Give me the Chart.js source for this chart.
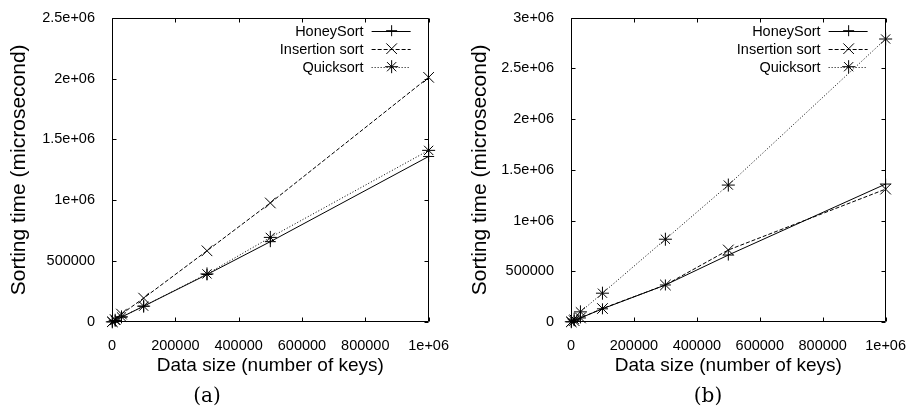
<!DOCTYPE html>
<html>
<head>
<meta charset="utf-8">
<script src="https://cdn.jsdelivr.net/npm/chart.js@4/dist/chart.umd.min.js"></script>
<style>
  html, body { margin: 0; padding: 0; background: #fff; }
  #wrap { position: relative; width: 913px; height: 411px; background: #fff; overflow: hidden; }
  canvas { position: absolute; top: 0; }
  .cap { position: absolute; top: 382px; width: 60px; margin-left: -30px; text-align: center;
         font-family: "DejaVu Serif", "Liberation Serif", serif; font-size: 20px; line-height: 26px; color: #000; }
</style>
</head>
<body>
<div id="wrap">
  <canvas id="chartA" width="456" height="411" style="left:0;width:456px;height:411px"></canvas>
  <canvas id="chartB" width="453" height="411" style="left:460px;width:453px;height:411px"></canvas>
  <div class="cap" style="left:207px">(a)</div>
  <div class="cap" style="left:708px">(b)</div>
</div>
<script>
// Data sizes (number of keys) used in both experiments
const dataSizes = [1000, 10000, 30000, 100000, 300000, 500000, 1000000];

// Experiment (a): sorting time in microseconds
const honeyA     = [1300, 13000, 40000, 130000, 390000, 660000, 1360000];
const insertionA = [2000, 20000, 65000, 196000, 585000, 978000, 2010000];
const quickA     = [1400, 14000, 42000, 130000, 395000, 695000, 1410000];

// Experiment (b): sorting time in microseconds
const honeyB     = [1300, 13000, 40000, 130000, 365000, 660000, 1360000];
const insertionB = [1300, 13000, 40000, 133000, 365000, 710000, 1310000];
const quickB     = [2800, 28000, 100000, 284000, 816000, 1350000, 2790000];

const seriesNames = ['HoneySort', 'Insertion sort', 'Quicksort'];

// Tick labels in gnuplot's default format
const xTickValues = [0, 200000, 400000, 600000, 800000, 1000000];
const xTickLabels = ['0', '200000', '400000', '600000', '800000', '1e+06'];
const yTickValuesA = [0, 500000, 1000000, 1500000, 2000000, 2500000];
const yTickLabelsA = ['0', '500000', '1e+06', '1.5e+06', '2e+06', '2.5e+06'];
const yTickValuesB = [0, 500000, 1000000, 1500000, 2000000, 2500000, 3000000];
const yTickLabelsB = ['0', '500000', '1e+06', '1.5e+06', '2e+06', '2.5e+06', '3e+06'];

const xTitle = 'Data size (number of keys)';
const yTitle = 'Sorting time (microsecond)';

const SANS = '"Liberation Sans", Arial, Helvetica, sans-serif';
Chart.defaults.color = '#000';
Chart.defaults.font.family = SANS;

// Line / marker styles: solid "+", dashed "x", dotted "*"
const styles = [
  { dash: [],     pointStyle: 'cross',    radius: 5.5 },
  { dash: [4, 2], pointStyle: 'crossRot', radius: 7.5 },
  { dash: [1, 2], pointStyle: 'star',     radius: 6.5 }
];

function pairs(xs, ys) { return xs.map((x, i) => ({ x: x, y: ys[i] })); }

function labelFor(values, labels) {
  return function (value) {
    const i = values.indexOf(value);
    return i >= 0 ? labels[i] : '';
  };
}

// Frame with inward tick marks on all four sides
const framePlugin = {
  id: 'frame',
  beforeDatasetsDraw(chart) {
    const { ctx, chartArea: a, scales } = chart;
    const L = Math.round(a.left) + 0.5, R = Math.round(a.right) - 0.5;
    const T = Math.round(a.top) + 0.5, B = Math.round(a.bottom) - 0.5;
    const len = 4;
    ctx.save();
    ctx.strokeStyle = '#000';
    ctx.lineWidth = 1;
    ctx.setLineDash([]);
    ctx.beginPath();
    ctx.rect(L, T, R - L, B - T);
    scales.x.ticks.forEach(t => {
      const px = Math.round(scales.x.getPixelForValue(t.value)) + 0.5;
      ctx.moveTo(px, B); ctx.lineTo(px, B - len);
      ctx.moveTo(px, T); ctx.lineTo(px, T + len);
    });
    scales.y.ticks.forEach(t => {
      const py = Math.round(scales.y.getPixelForValue(t.value)) + 0.5;
      ctx.moveTo(L, py); ctx.lineTo(L + len, py);
      ctx.moveTo(R, py); ctx.lineTo(R - len, py);
    });
    ctx.stroke();
    ctx.restore();
  }
};

// Key in the upper right corner: right-aligned text, line sample, marker
const keyPlugin = {
  id: 'key',
  afterDatasetsDraw(chart) {
    const { ctx, chartArea: a } = chart;
    ctx.save();
    ctx.font = '14.5px ' + SANS;
    ctx.textAlign = 'right';
    ctx.textBaseline = 'middle';
    chart.data.datasets.forEach((ds, i) => {
      const y = a.top + 13 + i * 18;
      ctx.fillStyle = '#000';
      ctx.fillText(ds.label, a.right - 65, y + 1);
      ctx.strokeStyle = '#000';
      ctx.lineWidth = 1;
      ctx.setLineDash(ds.borderDash || []);
      ctx.beginPath();
      ctx.moveTo(a.right - 57, Math.round(y) + 0.5);
      ctx.lineTo(a.right - 18, Math.round(y) + 0.5);
      ctx.stroke();
      ctx.setLineDash([]);
      Chart.helpers.drawPoint(ctx, {
        pointStyle: ds.pointStyle, rotation: 0, radius: ds.pointRadius, borderWidth: 1
      }, a.right - 37, y);
    });
    ctx.restore();
  }
};

function makeChart(id, seriesList, yMax, yValues, yLabels, yWidth, rightPad, yTitlePad) {
  const datasets = seriesList.map((vals, i) => ({
    label: seriesNames[i],
    data: pairs(dataSizes, vals),
    borderColor: '#000',
    backgroundColor: '#000',
    borderWidth: 1,
    borderDash: styles[i].dash,
    pointStyle: styles[i].pointStyle,
    pointRadius: styles[i].radius,
    pointBorderWidth: 1,
    pointBorderColor: '#000',
    tension: 0,
    clip: false
  }));
  return new Chart(document.getElementById(id), {
    type: 'line',
    data: { datasets: datasets },
    options: {
      responsive: false,
      animation: false,
      devicePixelRatio: 1,
      layout: { padding: { top: 12, right: rightPad, left: 0, bottom: 0 } },
      plugins: { legend: { display: false }, tooltip: { enabled: false } },
      elements: { point: { hoverRadius: 6 } },
      scales: {
        x: {
          type: 'linear', min: 0, max: 1000000,
          afterBuildTicks: s => { s.ticks = xTickValues.map(v => ({ value: v })); },
          afterFit: s => { s.height = 89; },
          grid: { display: false },
          border: { display: false },
          ticks: { padding: 7, maxRotation: 0, autoSkip: false,
                   font: { size: 14.5 }, callback: labelFor(xTickValues, xTickLabels) },
          title: { display: true, text: xTitle, font: { size: 19 },
                   padding: { top: 0, bottom: 34 } }
        },
        y: {
          type: 'linear', min: 0, max: yMax,
          afterBuildTicks: s => { s.ticks = yValues.map(v => ({ value: v })); },
          afterFit: s => { s.width = yWidth; },
          grid: { display: false },
          border: { display: false },
          ticks: { padding: 9, autoSkip: false,
                   font: { size: 14.5 }, callback: labelFor(yValues, yLabels) },
          title: { display: true, text: yTitle, font: { size: 21 },
                   padding: { top: yTitlePad, bottom: 0 } }
        }
      }
    },
    plugins: [framePlugin, keyPlugin]
  });
}

makeChart('chartA', [honeyA, insertionA, quickA], 2500000, yTickValuesA, yTickLabelsA, 112, 25, 7);
makeChart('chartB', [honeyB, insertionB, quickB], 3000000, yTickValuesB, yTickLabelsB, 111, 24, 8);
</script>
</body>
</html>
